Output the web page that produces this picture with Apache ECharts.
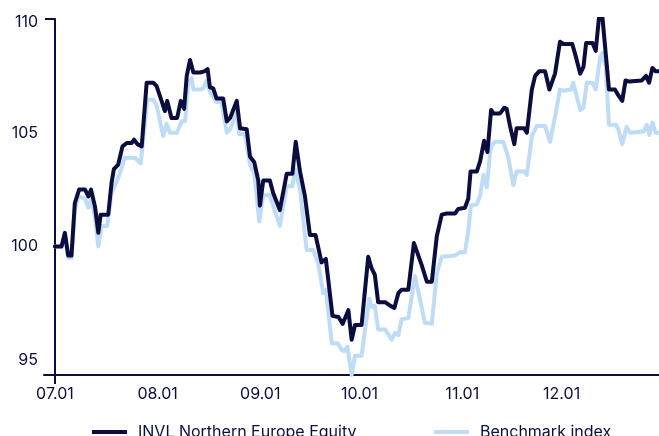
<!DOCTYPE html>
<html><head><meta charset="utf-8">
<script src="https://cdn.jsdelivr.net/npm/echarts@6/dist/echarts.min.js"></script>
<style>html,body{margin:0;padding:0;background:#fff}#c{width:659px;height:436px}</style>
</head><body><div id="c"></div>
<script>
// x = days since 07.01
const tickDays = [0, 31, 62, 92, 123, 153];
const tickLabels = ['07.01', '08.01', '09.01', '10.01', '11.01', '12.01'];
const yTicks = [95, 100, 105, 110];
const seriesNames = ['INVL Northern Europe Equity', 'Benchmark index'];

const invlDays = [0,2.0,3.0,4.0,5.0,6.0,7.3,9.1,10.1,10.9,12.1,13.1,13.8,16.1,17.1,17.8,19.1,20.4,21.7,23.2,23.9,24.9,26.2,27.7,29.7,30.7,32.2,33.2,33.9,35.2,36.9,38.0,39.0,39.8,40.8,41.8,43.8,45.1,46.1,46.8,47.8,48.8,50.8,51.9,52.9,54.9,55.9,57.9,58.9,60.2,61.4,61.9,62.9,64.9,65.9,67.9,70.0,71.7,72.7,74.0,75.5,77.0,78.7,80.5,81.8,83.8,85.6,86.9,88.6,89.6,90.6,92.6,94.6,95.6,96.6,97.6,99.7,101.2,102.5,103.7,104.7,106.7,108.4,110.7,112.3,113.8,115.3,116.8,118.3,120.8,121.8,123.8,124.8,125.5,127.4,128.4,129.6,130.6,131.7,132.4,134.4,135.7,136.4,137.4,138.7,139.4,141.7,142.5,144.0,145.0,146.2,148.0,149.3,151.0,152.5,153.5,156.2,157.0,158.6,159.6,160.4,162.3,163.3,164.3,165.3,167.3,169.1,170.1,171.3,172.3,173.4,177.2,178.5,179.4,180.4,181.4,182.4];
const invlValues = [100.0,100.0,100.6,99.6,99.6,101.9,102.5,102.5,102.2,102.5,101.75,100.6,101.4,101.4,102.8,103.4,103.6,104.4,104.55,104.55,104.7,104.5,104.4,107.2,107.2,107.05,106.4,105.95,106.4,105.65,105.65,106.4,106.05,107.5,108.2,107.65,107.65,107.7,107.8,107.0,106.95,106.5,106.5,105.5,105.65,106.4,105.2,105.15,103.95,103.7,102.9,101.8,102.9,102.9,102.35,101.6,103.2,103.2,104.6,103.3,102.2,100.5,100.5,99.3,99.45,96.95,96.9,96.6,97.2,95.9,96.55,96.55,99.55,99.05,98.75,97.55,97.55,97.4,97.3,97.95,98.1,98.1,100.15,99.2,98.45,98.45,100.45,101.4,101.45,101.45,101.65,101.7,102.1,103.3,103.3,103.75,104.65,104.15,106.0,105.85,105.85,106.1,106.05,105.3,104.5,105.2,105.2,105.0,106.9,107.5,107.7,107.7,106.9,107.6,109.0,108.9,108.9,108.5,107.6,107.9,108.95,108.95,108.6,110.1,110.1,106.9,106.9,106.65,106.4,107.3,107.25,107.3,107.5,107.2,107.85,107.7,107.7];

const benchDays = [0,2.0,3.0,4.0,5.0,6.0,7.0,9.1,10.1,10.9,12.1,13.1,14.1,15.8,17.1,18.6,19.6,21.1,24.2,25.9,27.9,29.7,30.7,32.7,33.7,34.7,36.8,38.3,39.3,40.3,41.3,41.8,43.8,44.8,45.8,46.8,48.8,50.3,51.9,52.9,54.9,55.6,57.4,58.9,60.2,61.7,62.9,64.9,67.9,70.0,71.7,72.5,74.0,76.0,78.0,79.5,81.0,81.8,83.6,85.4,86.6,87.3,88.3,89.6,90.6,92.6,94.9,95.6,96.6,97.6,99.7,101.7,102.7,103.7,104.7,106.7,108.7,110.2,111.7,113.8,115.3,116.8,120.8,122.3,123.8,124.8,125.6,127.4,128.4,129.4,130.4,131.4,131.9,132.9,135.4,136.9,138.4,139.4,141.7,142.5,144.0,145.5,148.0,149.5,151.0,152.5,153.5,155.8,156.5,158.6,159.6,160.6,162.3,163.3,164.6,165.3,166.3,167.3,169.4,170.1,171.3,172.6,173.7,177.7,178.7,179.5,180.4,181.4,182.4];
const benchValues = [100.0,100.0,100.5,99.5,99.5,101.6,102.2,102.1,101.7,102.05,101.3,100.0,100.9,100.9,102.35,102.85,103.2,103.9,103.9,103.65,106.45,106.45,106.2,104.85,105.4,105.0,105.0,105.5,105.5,107.2,107.4,106.9,106.9,106.95,107.3,106.8,106.35,106.35,105.0,105.15,105.9,104.95,104.95,103.6,103.2,101.1,102.25,102.25,100.9,102.65,102.65,103.4,102.5,99.85,99.85,99.25,97.95,98.1,95.75,95.75,95.45,95.4,95.6,94.35,95.2,95.2,97.7,97.35,97.4,96.35,96.35,95.9,96.2,96.1,96.8,96.85,98.7,97.7,96.65,96.6,98.8,99.55,99.6,99.75,99.75,100.65,101.8,101.85,102.25,103.15,102.6,104.15,104.45,104.6,104.6,103.9,102.7,103.3,103.3,103.15,104.85,105.3,105.3,104.6,105.7,106.9,106.85,106.9,107.2,106.0,106.1,107.2,107.2,106.9,108.3,108.5,107.9,105.35,105.35,105.15,104.5,105.25,105.0,105.05,105.35,104.9,105.45,105.0,105.0];

const pair = (xs, ys) => xs.map((x, i) => [x, ys[i]]);
const navy = '#0a0d3d';
const light = '#bfdcf6';
const font = 'Inter, "Liberation Sans", sans-serif';
const topTick = yTicks[yTicks.length - 1];

const chart = echarts.init(document.getElementById('c'), null, {renderer: 'canvas'});
chart.setOption({
  animation: false,
  grid: {left: 44, right: 0, top: 19, bottom: 61, containLabel: false},
  xAxis: {
    type: 'value', min: -3.3, max: 182.4,
    splitLine: {show: false},
    axisLine: {show: true, onZero: false, lineStyle: {color: navy, width: 2}},
    axisTick: {show: true, customValues: [tickDays[0]], length: 9, lineStyle: {color: navy, width: 2}},
    axisLabel: {customValues: tickDays, formatter: v => tickLabels[tickDays.indexOf(v)],
      color: navy, fontFamily: font, fontSize: 16, margin: 11}
  },
  yAxis: {
    type: 'value', min: 94.35, max: 110, offset: -11,
    splitLine: {show: false},
    axisLine: {show: true, onZero: false, lineStyle: {color: navy, width: 2}},
    axisTick: {show: true, customValues: [topTick], length: 10, lineStyle: {color: navy, width: 2}},
    axisLabel: {customValues: yTicks, color: navy, fontFamily: font, fontSize: 16, margin: 17,
      formatter: v => v === topTick ? '{t|' + v + '}' : String(v),
      rich: {t: {color: navy, fontFamily: font, fontSize: 16, padding: [7, 0, 0, 0]}}}
  },
  legend: [
    {data: [seriesNames[0]], left: 87, top: 419, icon: 'rect', itemWidth: 35, itemHeight: 4,
      textStyle: {color: navy, fontFamily: font, fontSize: 16, padding: [0, 0, 0, 6]}},
    {data: [seriesNames[1]], left: 429, top: 419, icon: 'rect', itemWidth: 35, itemHeight: 4,
      textStyle: {color: navy, fontFamily: font, fontSize: 16, padding: [0, 0, 0, 6]}}
  ],
  series: [
    {name: seriesNames[0], type: 'line', data: pair(invlDays, invlValues), z: 3,
      showSymbol: false, symbol: 'none', color: navy,
      lineStyle: {color: navy, width: 4, join: 'round', cap: 'round'}},
    {name: seriesNames[1], type: 'line', data: pair(benchDays, benchValues), z: 2,
      showSymbol: false, symbol: 'none', color: light,
      lineStyle: {color: light, width: 4, join: 'round', cap: 'round'}}
  ]
});
</script></body></html>
